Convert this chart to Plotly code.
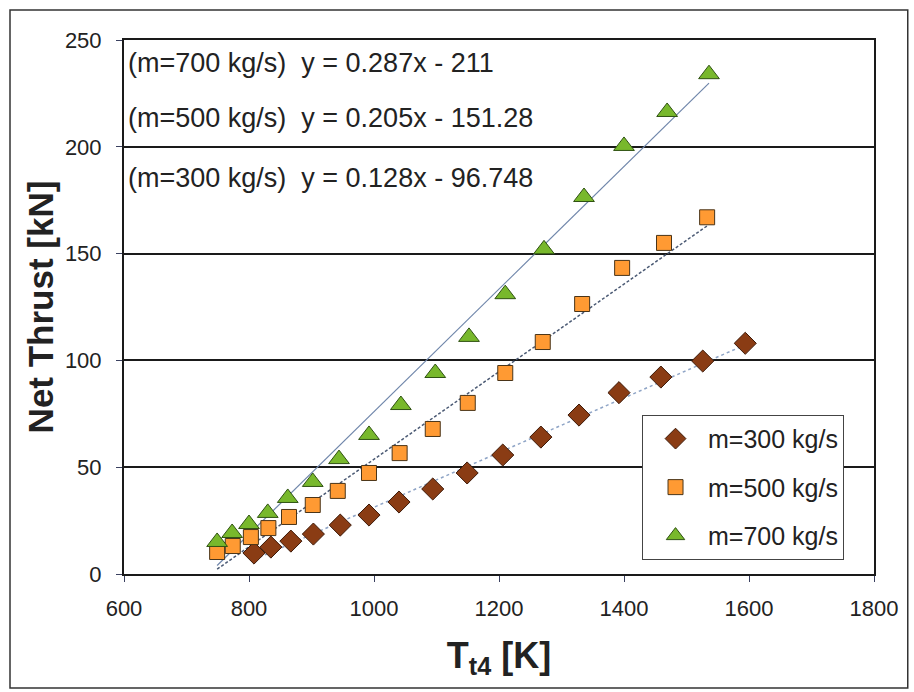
import plotly.graph_objects as go

# Turbine inlet temperature [K] and net thrust [kN] for three mass flows
t4_300 = [808, 835, 867, 903, 946, 992, 1040, 1094, 1149, 1206, 1267, 1328, 1392, 1459, 1526, 1594]
thrust_300 = [9.8, 12.6, 15.4, 18.7, 22.9, 27.6, 33.7, 39.8, 47.3, 55.7, 64.1, 74.4, 84.9, 92.2, 99.7, 108.0]

t4_500 = [749, 774, 803, 831, 864, 902, 942, 992, 1041, 1094, 1150, 1210, 1270, 1333, 1397, 1464, 1533]
thrust_500 = [10.3, 13.1, 17.3, 21.5, 26.7, 32.3, 38.9, 47.3, 56.6, 67.9, 80.1, 94.1, 108.6, 126.4, 143.3, 155.0, 167.0]

t4_700 = [749, 773, 800, 830, 862, 902, 944, 992, 1043, 1098, 1152, 1210, 1272, 1336, 1400, 1469, 1536]
thrust_700 = [15.0, 19.2, 23.4, 28.6, 35.6, 43.1, 53.8, 65.1, 79.1, 94.1, 111.0, 131.0, 152.0, 176.5, 200.4, 216.3, 234.0]

# Linear trend coefficients (y = slope * x + intercept)
mass_flows = [300, 500, 700]
slopes = [0.128, 0.205, 0.287]
intercepts = [-96.748, -151.28, -211]

x_ticks = [600, 800, 1000, 1200, 1400, 1600, 1800]
y_ticks = [0, 50, 100, 150, 200, 250]

FONT = "Liberation Sans, Arial, sans-serif"

series = [
    dict(x=t4_300, y=thrust_300, symbol="diamond", size=17, fill="#8a3c14", edge="#3e1a08",
         tl_color="#8ea4c6", tl_dash="dot", tl_width=1.5),
    dict(x=t4_500, y=thrust_500, symbol="square", size=15, fill="#ff9a33", edge="#4a3418",
         tl_color="#4b5a74", tl_dash="3px,2px", tl_width=1.5),
    dict(x=t4_700, y=thrust_700, symbol="triangle-up", size=18, fill="#78b82c", edge="#2f5212",
         tl_color="#6f86aa", tl_dash="solid", tl_width=1.2),
]

fig = go.Figure()

# trend lines drawn from the fitted coefficients over each series' range
for s, a, b in zip(series, slopes, intercepts):
    xs = [min(s["x"]), max(s["x"])]
    ys = [a * v + b for v in xs]
    fig.add_trace(go.Scatter(
        x=xs, y=ys, mode="lines", showlegend=False, hoverinfo="skip",
        line=dict(color=s["tl_color"], dash=s["tl_dash"], width=s["tl_width"]),
    ))

for i, (s, m) in enumerate(zip(series, mass_flows)):
    fig.add_trace(go.Scatter(
        x=s["x"], y=s["y"], mode="markers", name=f"m={m} kg/s",
        legendgroup=f"g{i}",
        marker=dict(symbol=s["symbol"], size=s["size"], color=s["fill"],
                    line=dict(color=s["edge"], width=1)),
    ))

# equation labels, highest mass flow first
eq_y = [0.742, 0.854, 0.957]
for m, a, b, yy in zip(mass_flows, slopes, intercepts, eq_y):
    sign = "-" if b < 0 else "+"
    txt = f"(m={m} kg/s)\u00a0\u00a0y = {a:g}x {sign} {abs(b):g}"
    fig.add_annotation(
        x=0.002, y=yy, xref="paper", yref="paper", xanchor="left", yanchor="middle",
        text=txt, showarrow=False, font=dict(family=FONT, size=27, color="#222222"),
    )

# outer chart frame
fig.add_shape(type="rect", xref="paper", yref="paper",
              x0=-0.152, x1=1.045, y0=-0.2135, y1=1.056,
              line=dict(color="#333333", width=1.5), layer="below")

fig.update_layout(
    width=914, height=692,
    margin=dict(l=124, r=40, t=40, b=118),
    paper_bgcolor="white", plot_bgcolor="white",
    font=dict(family=FONT, color="#222222"),
    showlegend=True,
    legend=dict(
        x=0.6907, y=0.298, xanchor="left", yanchor="top",
        bgcolor="white", bordercolor="#444444", borderwidth=1,
        font=dict(family=FONT, size=25, color="#222222"),
        tracegroupgap=13, itemwidth=55,
    ),
    xaxis=dict(
        range=[600, 1800], tickvals=x_ticks, ticktext=[str(v) for v in x_ticks],
        showgrid=False, zeroline=False,
        showline=True, linecolor="#1a1a1a", linewidth=2, mirror=True,
        ticks="outside", ticklen=6, tickcolor="#3a4060", tickwidth=1,
        tickfont=dict(family=FONT, size=22, color="#222222"),
        ticklabelstandoff=8,
        title=dict(text="<b>T<sub>t4</sub> [K]</b>", font=dict(family=FONT, size=36, color="#222222"),
                   standoff=22),
    ),
    yaxis=dict(
        range=[0, 250], tickvals=y_ticks, ticktext=[str(v) for v in y_ticks],
        showgrid=True, gridcolor="#1a1a1a", gridwidth=2, zeroline=False,
        showline=True, linecolor="#1a1a1a", linewidth=2, mirror=True,
        ticks="outside", ticklen=6, tickcolor="#3a4060", tickwidth=1,
        tickfont=dict(family=FONT, size=22, color="#222222"),
        ticklabelstandoff=10,
        title=dict(text="<b>Net Thrust [kN]</b>", font=dict(family=FONT, size=35, color="#222222"),
                   standoff=1),
    ),
)

fig.write_html("out.html")
